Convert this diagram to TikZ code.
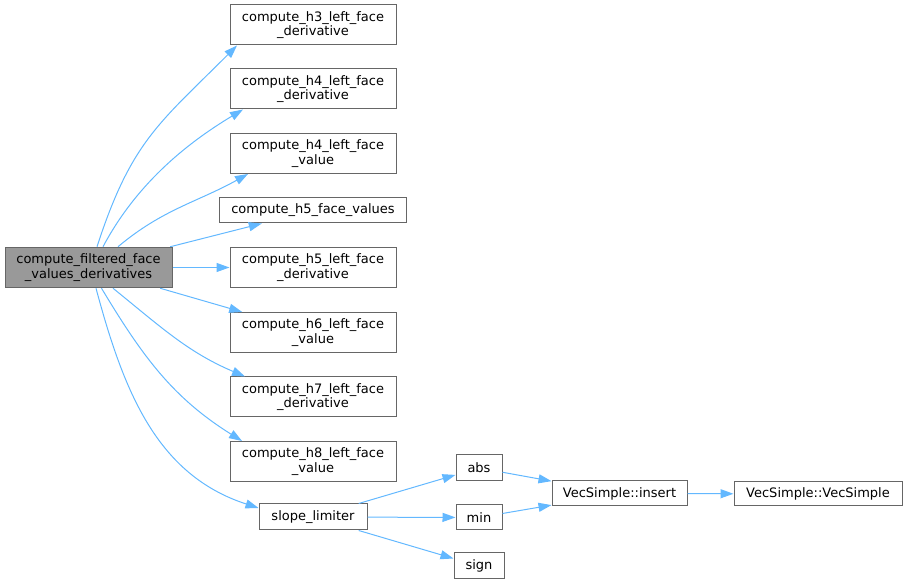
\documentclass[tikz,border=0pt]{standalone}
\usepackage{fontspec}
\setmainfont{DejaVu Sans}
\usetikzlibrary{arrows.meta}
\definecolor{boxgray}{HTML}{666666}
\definecolor{maingray}{HTML}{999999}
\definecolor{linkblue}{HTML}{63B8FF}

\begin{document}
\begin{tikzpicture}[
        x=1pt, y=1pt,
        line width=1pt,
        font=\fontsize{13}{14.5}\selectfont
    ]
    \tikzset{
        fnnode/.style = {rectangle, draw=boxgray, fill=white, align=center, inner sep=0pt, minimum width=166pt, minimum height=40pt},
        fnnodem/.style = {fnnode, fill=maingray, minimum width=167pt, minimum height=40.5pt},
        fnnodes/.style = {rectangle, draw=boxgray, fill=white, inner sep=0pt, minimum height=25pt},
        edgeb/.style = {-{Triangle[length=13pt,width=9pt]}, linkblue},
    }
    \useasboundingbox (0,0) rectangle (907,585);
    \node[fnnodem] at (88.5,317.5) (main) {compute\_filtered\_face\\\_values\_derivatives};
    \node[fnnode] at (313,560) (h3d) {compute\_h3\_left\_face\\\_derivative};
    \node[fnnode] at (313,496) (h4d) {compute\_h4\_left\_face\\\_derivative};
    \node[fnnode] at (313,431.5) (h4v) {compute\_h4\_left\_face\\\_value};
    \node[fnnodes, minimum width=187pt] at (313,374.5) (h5f) {compute\_h5\_face\_values};
    \node[fnnode] at (313,317.5) (h5d) {compute\_h5\_left\_face\\\_derivative};
    \node[fnnode] at (313,252.5) (h6v) {compute\_h6\_left\_face\\\_value};
    \node[fnnode] at (313,188) (h7d) {compute\_h7\_left\_face\\\_derivative};
    \node[fnnode] at (313,123.5) (h8v) {compute\_h8\_left\_face\\\_value};
    \node[fnnodes, minimum width=108pt, minimum height=26pt] at (313,68) (slope) {slope\_limiter};
    \node[fnnodes, minimum width=46pt, minimum height=26pt] at (479,117) (abs) {abs};
    \node[fnnodes, minimum width=46pt] at (479,67.5) (min) {min};
    \node[fnnodes, minimum width=50pt, minimum height=26pt] at (479,19) (sign) {sign};
    \node[fnnodes, minimum width=135pt] at (619.5,91.5) (insert) {VecSimple::insert};
    \node[fnnodes, minimum width=168pt, minimum height=24pt] at (818,91) (vecs) {VecSimple::VecSimple};
    %
    \draw[edgeb] ([xshift=8.5pt]main.north) to[out=72,in=225,looseness=1.15] ([xshift=-76pt]h3d.south);
    \draw[edgeb] ([xshift=14.5pt]main.north) to[out=62,in=211,looseness=0.9] ([xshift=-70pt]h4d.south);
    \draw[edgeb] ([xshift=29.5pt]main.north) to[out=40,in=209] ([xshift=-65pt]h4v.south);
    \draw[edgeb] (main) -- (h5f);
    \draw[edgeb] (main) -- (h5d);
    \draw[edgeb] (main) -- (h6v);
    \draw[edgeb] ([xshift=24.5pt]main.south) to[out=-39,in=157] ([xshift=-68pt]h7d.north);
    \draw[edgeb] ([xshift=13pt]main.south) to[out=-59,in=148] ([xshift=-71pt]h8v.north);
    \draw[edgeb] ([xshift=7.5pt]main.south) to[out=-75,in=162] ([yshift=9pt]slope.west);
    %
    \draw[edgeb] (slope) -- (abs);
    \draw[edgeb] (slope) -- (min);
    \draw[edgeb] (slope) -- (sign);
    \draw[edgeb] (abs) -- (insert);
    \draw[edgeb] (min) -- (insert);
    \draw[edgeb] (insert) -- (vecs);
\end{tikzpicture}
\end{document}
